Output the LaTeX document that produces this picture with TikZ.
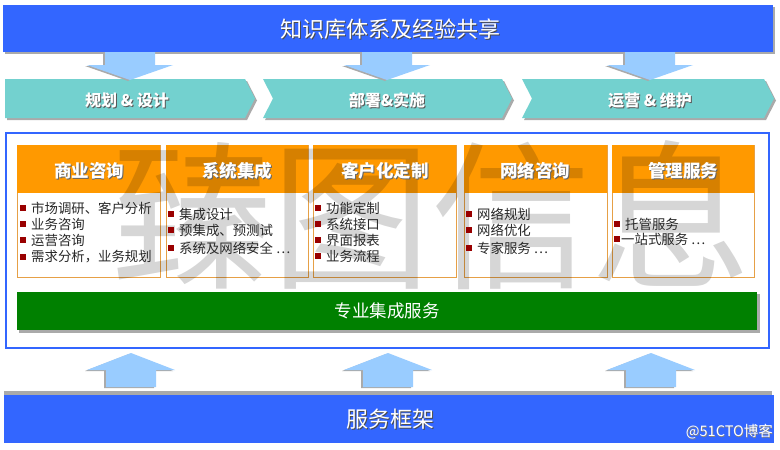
\documentclass[tikz,border=0pt]{standalone}
\usepackage{fontspec}
\setmainfont{Noto Sans CJK SC}
\definecolor{topblue}{RGB}{51,102,255}
\definecolor{teal}{RGB}{115,209,207}
\definecolor{lblue}{RGB}{153,204,255}
\definecolor{orng}{RGB}{255,153,0}
\definecolor{obord}{RGB}{230,160,70}
\definecolor{grn}{RGB}{0,128,0}
\definecolor{bul}{RGB}{153,0,0}
\definecolor{shad}{RGB}{170,170,170}
\definecolor{txt}{RGB}{40,40,40}
\tikzset{
  title/.style={text=white,font=\fontsize{22}{22}\selectfont,inner sep=0},
  titleshadow/.style={title,text=black!70,xshift=1pt,yshift=-1pt},
  chev/.style={text=white,font=\fontsize{16}{16}\selectfont\bfseries,inner sep=0},
  chevshadow/.style={chev,text=black!65,xshift=1pt,yshift=-1pt},
  head/.style={text=white,font=\fontsize{17.5}{17.5}\selectfont\bfseries,inner sep=0},
  headshadow/.style={head,text=black!60,xshift=1pt,yshift=-1pt},
  item/.style={text=txt,font=\fontsize{13.4}{13.4}\selectfont,inner sep=0,anchor=west},
  bullet/.style={fill=bul,minimum size=6.5pt,inner sep=0},
  bodybox/.style={draw=obord,fill=white,line width=0.8pt},
  arrowfill/.style={fill=lblue},
  arrowshadow/.style={fill=shad},
}
\newcommand\dnarrowshape[1]{%
  \fill[arrowshadow] (#1-27,52) -- (#1-27,66) -- (#1-45,66) -- (#1-2,81) -- (#1+23,66) -- (#1+23,52) -- cycle;
  \fill[arrowfill] (#1-25,52) -- (#1-25,65) -- (#1-43,65) -- (#1,80) -- (#1+43,65) -- (#1+25,65) -- (#1+25,52) -- cycle;}
\newcommand\uparrowshape[1]{%
  \fill[arrowshadow] (#1-27,388) -- (#1-27,371) -- (#1-46,371) -- (#1-2,354) -- (#1+42,371) -- (#1+23,371) -- (#1+23,388) -- cycle;
  \fill[arrowfill] (#1-25,387) -- (#1-25,370) -- (#1-44,370) -- (#1,353) -- (#1+44,370) -- (#1+25,370) -- (#1+25,387) -- cycle;}
\begin{document}
\begin{tikzpicture}[x=1pt,y=-1pt]
\useasboundingbox (0,0) rectangle (780,450);
\fill[white] (0,0) rectangle (780,450);
% top bar
\fill[shad] (5,7) rectangle (775,54);
\fill[topblue] (3,5) rectangle (773,52);
\node[titleshadow] at (390,29) {知识库体系及经验共享};
\node[title] (kb) at (390,29) {知识库体系及经验共享};
% chevrons
\fill[shad] (7,81) -- (247,81) -- (257,100.5) -- (247,120) -- (7,120) -- cycle;
\fill[teal] (5,79) -- (245,79) -- (255,98.5) -- (245,118) -- (5,118) -- cycle;
\fill[shad] (265,81) -- (504,81) -- (514,100.5) -- (504,120) -- (265,120) -- (275,100.5) -- cycle;
\fill[teal] (263,79) -- (502,79) -- (512,98.5) -- (502,118) -- (263,118) -- (273,98.5) -- cycle;
\fill[shad] (524,81) -- (766,81) -- (776,100.5) -- (766,120) -- (524,120) -- (534,100.5) -- cycle;
\fill[teal] (522,79) -- (764,79) -- (774,98.5) -- (764,118) -- (522,118) -- (532,98.5) -- cycle;
\dnarrowshape{130}
\dnarrowshape{387}
\dnarrowshape{650}
\node[chevshadow] at (127,100) {规划 \& 设计};
\node[chev] (c1) at (127,100) {规划 \& 设计};
\node[chevshadow] at (387,100) {部署\&实施};
\node[chev] (c2) at (387,100) {部署\&实施};
\node[chevshadow] at (650,100) {运营 \& 维护};
\node[chev] (c3) at (650,100) {运营 \& 维护};
% frame
\draw[topblue,line width=2.5pt] (6,133) rectangle (769,348);
% boxes
\foreach \a/\b in {17/160,166/308,313/456,464/607,612/754}{
  \draw[bodybox] (\a,145) rectangle (\b,277);
  \fill[orng] (\a,145) rectangle (\b,193);
}
% green bar
\fill[shad] (19,294) rectangle (760,333);
\fill[grn] (17,292) rectangle (757,330);
% watermark
\node[text=black,opacity=0.16,font=\fontsize{160}{160}\selectfont,inner sep=0] (wm) at (432,215) {臻图信息};
% headers
\foreach \x/\t/\n in {89/商业咨询/h1,237/系统集成/h2,385/客户化定制/h3,535/网络咨询/h4,683/管理服务/h5}{
  \node[headshadow] at (\x,171) {\t};
  \node[head] (\n) at (\x,171) {\t};
}
% items
\foreach \y/\t/\n in {208/市场调研、客户分析/a1,224/业务咨询/a2,240/运营咨询/a3,257/需求分析，业务规划/a4}{
  \node[bullet] at (23,\y) {};
  \node[item] (\n) at (31,\y) {\t};
}
\foreach \y/\t/\n in {214/集成设计/b1,230/预集成、预测试/b2,248/系统及网络安全 …/b3}{
  \node[bullet] at (171,\y) {};
  \node[item] (\n) at (179,\y) {\t};
}
\foreach \y/\t/\n in {208/功能定制/d1,224/系统接口/d2,240/界面报表/d3,256/业务流程/d4}{
  \node[bullet] at (318,\y) {};
  \node[item] (\n) at (326,\y) {\t};
}
\foreach \y/\t/\n in {214/网络规划/e1,230/网络优化/e2,248/专家服务 …/e3}{
  \node[bullet] at (469,\y) {};
  \node[item] (\n) at (477,\y) {\t};
}
\foreach \y/\t/\n/\xx in {224/托管服务/f1/625,239/一站式服务 …/f2/621}{
  \node[bullet] at (617,\y) {};
  \node[item] (\n) at (\xx,\y) {\t};
}
\node[text=white,font=\fontsize{17.5}{17.5}\selectfont,inner sep=0] (pro) at (387,311) {专业集成服务};
% up arrows
\uparrowshape{131}
\uparrowshape{388}
\uparrowshape{651}
% bottom bar
\fill[shad] (4,391) rectangle (772,396);
\fill[topblue] (4,395) rectangle (774,443);
\node[titleshadow] at (390,419) {服务框架};
\node[title] (fw) at (390,419) {服务框架};
\node[text=black!50,font=\fontsize{14.5}{14.5}\selectfont,inner sep=0,anchor=east,xshift=0.6pt,yshift=-0.6pt] at (773,432) {@51CTO博客};
\node[text=white,font=\fontsize{14.5}{14.5}\selectfont,inner sep=0,anchor=east] (wm2) at (773,432) {@51CTO博客};
\end{tikzpicture}
\end{document}
